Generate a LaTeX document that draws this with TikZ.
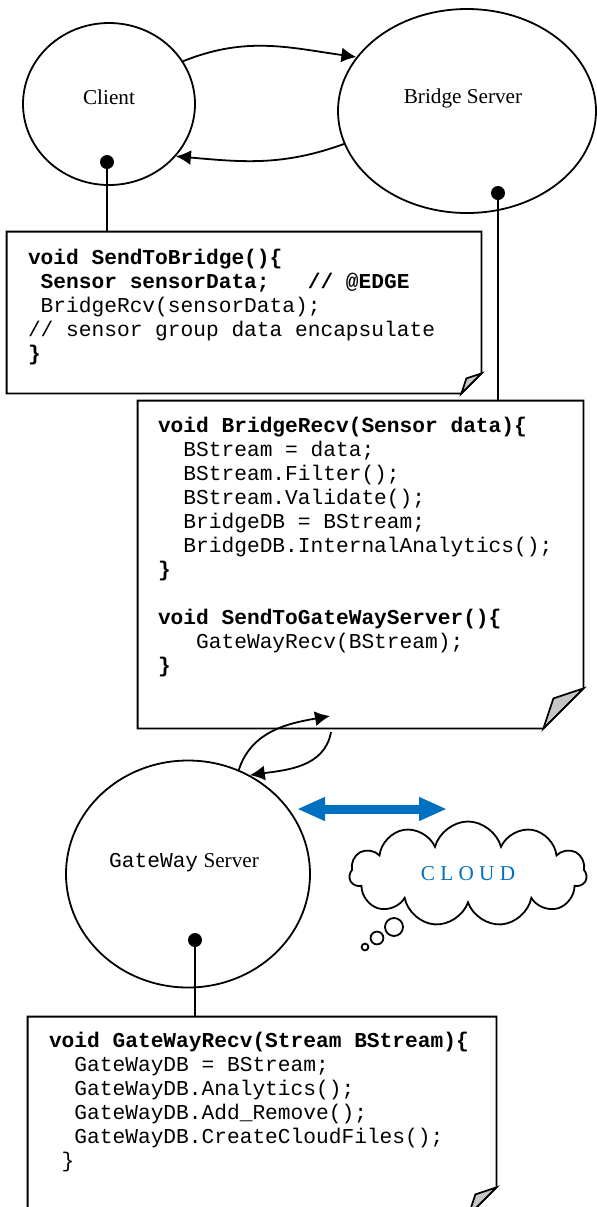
\documentclass[tikz,border=0pt]{standalone}
\usepackage{fontspec}
\setmainfont{Liberation Serif}
\setmonofont{Liberation Mono}
\usetikzlibrary{arrows.meta,shapes.geometric,shapes.symbols}
\definecolor{linkblue}{RGB}{0,112,192}
\tikzset{
  server/.style={draw, ellipse, line width=0.9pt, inner sep=0pt},
  label/.style={font=\fontsize{10.6}{12}\selectfont, inner sep=0pt},
  notebox/.style={inner sep=0pt},
  code/.style={font=\fontsize{10.6}{12}\selectfont\ttfamily, align=left, inner sep=0pt, anchor=north west},
  flow/.style={line width=0.9pt, -{Latex[length=7.5pt,width=7.5pt]}},
  pin/.style={line width=0.9pt},
  biglink/.style={draw=linkblue, line width=4.5pt, {Triangle[length=14pt,width=11pt]}-{Triangle[length=14pt,width=11pt]}},
}
% folded corner note outline
\newcommand{\foldnote}[2]{%
  \draw[line width=0.9pt] (#1.north west) -- (#1.north east) -- ([yshift=#2]#1.south east)
    -- ([xshift=-#2]#1.south east) -- (#1.south west) -- cycle;
  \filldraw[fill=gray!45, line width=0.9pt] ([yshift=#2]#1.south east) -- ([xshift=-#2]#1.south east)
    -- ([xshift={-0.75*#2}, yshift={0.75*#2}]#1.south east) -- cycle;
}

\begin{document}
\begin{tikzpicture}[x=0.5pt,y=-0.5pt]
\useasboundingbox (0,0) rectangle (596,1207);

\node[server, minimum width=86pt, minimum height=81pt] (client) at (109,104) {};
\node[server, minimum width=129pt, minimum height=102pt] (bridge) at (467,111) {};
\node[server, minimum width=122pt, minimum height=113.5pt] (gate) at (188,874) {};
\node[label] (clientlbl) at (109,97) {Client};
\node[label] (bridgelbl) at (463,98) {Bridge Server};
\node[label] (gatelbl) at (184,863) {\texttt{GateWay} Server};

\draw[flow] (client.30) to[out=22,in=172] (bridge.154);
\draw[flow] (bridge.195) to[out=200,in=-5] (client.-38);

\node[notebox, minimum width=237pt, minimum height=80.5pt] (sendbox) at (244,312.5) {};
\node[notebox, minimum width=222.5pt, minimum height=163.5pt] (recvbox) at (360.5,564.5) {};
\node[notebox, minimum width=234pt, minimum height=99pt] (gatebox) at (262,1116) {};
\foldnote{sendbox}{10pt}
\foldnote{recvbox}{20pt}
\foldnote{gatebox}{14pt}

\node[code] (sendcode) at ([xshift=10.5pt,yshift=-8.5pt]sendbox.north west) {%
\textbf{void SendToBridge()\{}\\
\textbf{~Sensor sensorData;~~~// @EDGE}\\
~BridgeRcv(sensorData);\\
// sensor group data encapsulate\\
\textbf{\}}};

\node[code] (recvcode) at ([xshift=10pt,yshift=-8pt]recvbox.north west) {%
\textbf{void BridgeRecv(Sensor data)\{}\\
~~BStream = data;\\
~~BStream.Filter();\\
~~BStream.Validate();\\
~~BridgeDB = BStream;\\
~~BridgeDB.InternalAnalytics();\\
\textbf{\}}\\[12pt]
\textbf{void SendToGateWayServer()\{}\\
~~~GateWayRecv(BStream);\\
\textbf{\}}};

\node[code] (gatecode) at ([xshift=10.5pt,yshift=-7.5pt]gatebox.north west) {%
\textbf{void GateWayRecv(Stream BStream)\{}\\
~~GateWayDB = BStream;\\
~~GateWayDB.Analytics();\\
~~GateWayDB.Add\_Remove();\\
~~GateWayDB.CreateCloudFiles();\\
~\}};

\coordinate (cdot) at (107,162);
\coordinate (bdot) at (498,193);
\coordinate (gdot) at (195,940);
\fill (cdot) circle (3.5pt);
\fill (bdot) circle (3.5pt);
\fill (gdot) circle (3.5pt);
\draw[pin] (cdot) -- (cdot |- sendbox.north);
\draw[pin] (bdot) -- (bdot |- recvbox.north);
\draw[pin] (gdot) -- (gdot |- gatebox.north);

\coordinate (loopin) at (330,716);
\coordinate (loopout) at (331,732);
\draw[flow] (gate.64) to[out=72,in=190] (loopin);
\draw[flow] (loopout) to[out=-100,in=8] (gate.58);

\node[cloud, draw, line width=0.9pt, cloud puffs=11, cloud ignores aspect,
  minimum width=118.5pt, minimum height=52.5pt, inner sep=0pt,
  font=\fontsize{10.6}{12}\selectfont, text=linkblue] (cloud) at (468,874) {C L O U D};
\draw[line width=0.9pt] (394,927) circle (4.5pt);
\draw[line width=0.9pt] (377,938) circle (3.2pt);
\draw[line width=0.9pt] (365,947) circle (1.7pt);

\coordinate (linkL) at (297,809);
\coordinate (linkR) at (447,809);
\draw[biglink] (linkL) -- (linkR);
\end{tikzpicture}
\end{document}
